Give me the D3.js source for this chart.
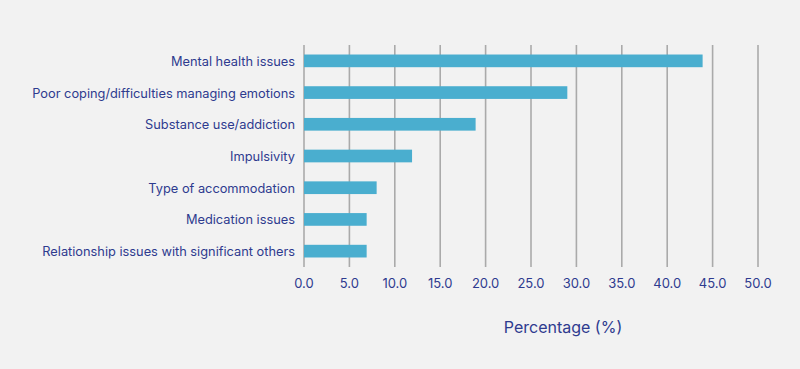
<!DOCTYPE html>
<html lang="en">
<head>
    <meta charset="UTF-8">
    <title>Percentage by factor</title>
    <style>
        body { margin: 0; background: #f2f2f2; }
        svg { display: block; font-family: "Inter", "Noto Sans", sans-serif; }
        .grid line { stroke: #aaaaaa; stroke-width: 1.6px; }
        .label { fill: #2e3b8f; font-size: 13px; }
        .cat { font-size: 12.8px; }
        .bar { fill: #4aaecf; }
    </style>
</head>
<body>
    <svg id="chart" width="800" height="369"></svg>
    <script src="https://d3js.org/d3.v7.min.js"></script>
    <script>
    // categories, top to bottom
    const categories = [
        "Mental health issues",
        "Poor coping/difficulties managing emotions",
        "Substance use/addiction",
        "Impulsivity",
        "Type of accommodation",
        "Medication issues",
        "Relationship issues with significant others"
    ];
    const values = [43.9, 29.0, 18.9, 11.9, 8.0, 6.9, 6.9];
    const ticks = [0, 5, 10, 15, 20, 25, 30, 35, 40, 45, 50];

    const svg = d3.select("#chart");
    const plotLeft = 304, plotRight = 758, plotTop = 45, plotBottom = 267;

    const x = d3.scaleLinear().domain([0, 50]).range([plotLeft, plotRight]);
    const y = d3.scaleBand().domain(categories).range([plotTop, plotBottom])
        .paddingInner(0.6).paddingOuter(0.3);

    // vertical gridlines
    svg.append("g").attr("class", "grid")
        .selectAll("line").data(ticks).join("line")
        .attr("x1", d => x(d)).attr("x2", d => x(d))
        .attr("y1", plotTop).attr("y2", plotBottom);

    // bars
    svg.append("g").selectAll("rect").data(categories).join("rect")
        .attr("class", "bar")
        .attr("x", x(0))
        .attr("y", d => y(d))
        .attr("width", (d, i) => x(values[i]) - x(0))
        .attr("height", y.bandwidth());

    // category labels
    svg.append("g").selectAll("text").data(categories).join("text")
        .attr("class", "label cat")
        .attr("x", 295)
        .attr("y", d => y(d) + y.bandwidth() / 2 + 0.5)
        .attr("dy", "0.35em")
        .attr("text-anchor", "end")
        .text(d => d);

    // tick labels
    svg.append("g").selectAll("text").data(ticks).join("text")
        .attr("class", "label")
        .attr("x", d => x(d))
        .attr("y", 283)
        .attr("dy", "0.35em")
        .attr("text-anchor", "middle")
        .text(d => d.toFixed(1));

    // axis title
    svg.append("text")
        .attr("class", "label")
        .attr("x", 563).attr("y", 327)
        .attr("dy", "0.35em")
        .attr("text-anchor", "middle")
        .style("font-size", "16px")
        .text("Percentage (%)");
    </script>
</body>
</html>
